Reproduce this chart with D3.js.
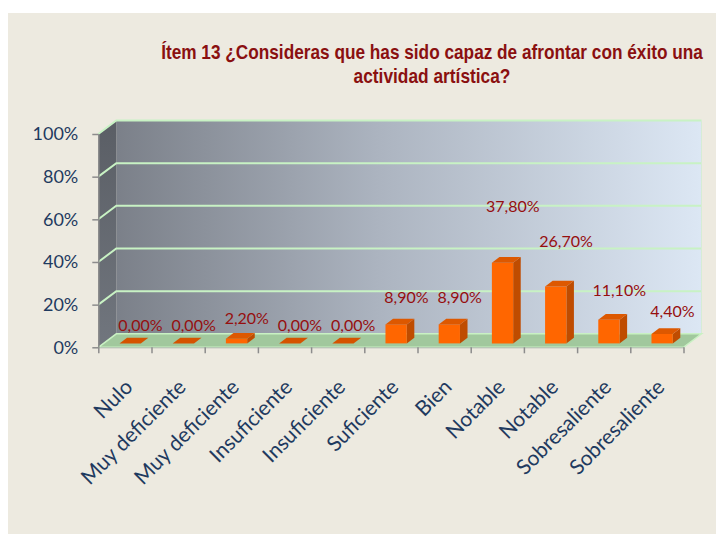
<!DOCTYPE html>
<html>
<head>
<meta charset="utf-8">
<script src="https://cdn.jsdelivr.net/npm/d3@7"></script>
<style>
  html, body { margin: 0; padding: 0; background: #ffffff; }
  svg { display: block; }
</style>
</head>
<body>
<svg id="chart" width="716" height="534"></svg>
<script>
// Category labels along the horizontal axis (order as surveyed)
const categories = ["Nulo", "Muy deficiente", "Muy deficiente", "Insuficiente", "Insuficiente",
  "Suficiente", "Bien", "Notable", "Notable", "Sobresaliente", "Sobresaliente"];
// Share of answers per category, in percent
const values = [0, 0, 2.2, 0, 0, 8.9, 8.9, 37.8, 26.7, 11.1, 4.4];
// Vertical axis ticks, in percent
const yTicks = [0, 20, 40, 60, 80, 100];
const titleLines = ["Ítem 13 ¿Consideras que has sido capaz de afrontar con éxito una",
  "actividad artística?"];

const svg = d3.select("#chart");
const defs = svg.append("defs");

// Panel background
svg.append("rect").attr("x", 8).attr("y", 13).attr("width", 708).attr("height", 521)
  .attr("fill", "#edeae0");

// Plot frame: front plane and depth offset of the oblique 3D box
const plotLeft = 98.3, plotRight = 683.5, plotBottom = 347.3, plotTop = 134;
const depth = { dx: 18, dy: -13.5 };
const f1 = 0.29, f2 = 0.71; // bar front / back depth fractions

const x = d3.scaleBand().domain(d3.range(categories.length)).range([plotLeft, plotRight]).padding(0);
const xb = d3.scaleLinear().domain([0, categories.length]).range([plotLeft, plotRight]);
const y = d3.scaleLinear().domain([0, 100]).range([plotBottom, plotTop]);
const labelY = d3.scaleLinear().domain([0, 100]).range([330.5, 330.5 - 313]);

// Gradients
const gWall = defs.append("linearGradient").attr("id", "wall").attr("x1", 0).attr("x2", 1).attr("y1", 0).attr("y2", 0);
gWall.append("stop").attr("offset", 0).attr("stop-color", "#7b8089");
gWall.append("stop").attr("offset", 0.45).attr("stop-color", "#acb4c0");
gWall.append("stop").attr("offset", 1).attr("stop-color", "#dce7f4");
const gSide = defs.append("linearGradient").attr("id", "side").attr("x1", 0).attr("x2", 0).attr("y1", 0).attr("y2", 1);
gSide.append("stop").attr("offset", 0).attr("stop-color", "#5a5e65");
gSide.append("stop").attr("offset", 1).attr("stop-color", "#71767e");

const bx0 = plotLeft + depth.dx, by0 = plotBottom + depth.dy;
const pt = p => p.join(",");

// Back wall
svg.append("rect").attr("x", bx0).attr("y", y(100) + depth.dy)
  .attr("width", plotRight - plotLeft).attr("height", y(0) - y(100))
  .attr("fill", "url(#wall)");
// Side wall
svg.append("polygon")
  .attr("points", [[plotLeft, y(100)], [bx0, y(100) + depth.dy], [bx0, by0], [plotLeft, plotBottom]].map(pt).join(" "))
  .attr("fill", "url(#side)");

// Gridlines on back and side walls
const grid = svg.append("g").attr("stroke", "#c8f2c4").attr("stroke-width", 2).attr("fill", "none");
yTicks.filter(t => t > 0).forEach(t => {
  grid.append("polyline")
    .attr("points", [[plotLeft, y(t)], [bx0, y(t) + depth.dy], [plotRight + depth.dx, y(t) + depth.dy]].map(pt).join(" "));
});
svg.append("line").attr("x1", plotRight + depth.dx).attr("x2", plotRight + depth.dx)
  .attr("y1", y(100) + depth.dy).attr("y2", by0).attr("stroke", "#d6ecd6").attr("stroke-width", 1);

// Floor
svg.append("polygon")
  .attr("points", [[plotLeft, plotBottom], [bx0, by0], [plotRight + depth.dx, by0], [plotRight, plotBottom]].map(pt).join(" "))
  .attr("fill", "#a1c89d").attr("stroke", "#c9f1c3").attr("stroke-width", 1.5);

// Bars
const bw = x.bandwidth() * 0.4;
const bars = svg.append("g");
values.forEach((v, i) => {
  const xl = x(i) + (x.bandwidth() - bw) / 2, xr = xl + bw;
  const yt = y(v), y0 = y(0);
  const P = (px, py, f) => [px + depth.dx * f, py + depth.dy * f];
  const g = bars.append("g");
  if (v > 0) {
    g.append("polygon")
      .attr("points", [P(xr, yt, f1), P(xr, yt, f2), P(xr, y0, f2), P(xr, y0, f1)].map(pt).join(" "))
      .attr("fill", "#bf4c00");
    g.append("polygon")
      .attr("points", [P(xl, yt, f1), P(xr, yt, f1), P(xr, y0, f1), P(xl, y0, f1)].map(pt).join(" "))
      .attr("fill", "#ff6600");
  }
  g.append("polygon")
    .attr("points", [P(xl, yt, f1), P(xr, yt, f1), P(xr, yt, f2), P(xl, yt, f2)].map(pt).join(" "))
    .attr("fill", v > 0 ? "#dd5800" : "#d55300");
});

// Axes
const yAxis = svg.append("g").attr("transform", `translate(${plotLeft},0)`)
  .call(d3.axisLeft(y).tickValues(yTicks).tickFormat(d => d + "%").tickSize(6).tickSizeOuter(0).tickPadding(14));
yAxis.select(".domain").attr("stroke", "#8c8c8c").attr("stroke-width", 1.5);
yAxis.selectAll(".tick line").attr("stroke", "#8c8c8c").attr("stroke-width", 1.5);
yAxis.selectAll(".tick text").attr("fill", "#1f3a5f")
  .style("font-family", "Lato, 'Open Sans', sans-serif").style("font-size", "18px");

const xAxis = svg.append("g").attr("transform", `translate(0,${plotBottom})`)
  .call(d3.axisBottom(xb).tickValues(d3.range(categories.length + 1)).tickFormat("").tickSize(6).tickSizeOuter(0));
xAxis.select(".domain").attr("stroke", "#b0b8b0").attr("stroke-width", 1);
xAxis.selectAll(".tick line").attr("stroke", "#8c8c8c").attr("stroke-width", 1.5);

// Category labels, rotated
svg.append("g").selectAll("text").data(categories).join("text")
  .attr("transform", (d, i) => `translate(${x(i) + x.bandwidth() / 2 + 9},${plotBottom + 41}) rotate(-45)`)
  .attr("text-anchor", "end")
  .attr("fill", "#1f3a5f")
  .style("font-family", "Lato, 'Open Sans', sans-serif").style("font-size", "21px")
  .text(d => d);

// Data labels
const fmt = v => v.toFixed(2).replace(".", ",") + "%";
svg.append("g").selectAll("text").data(values).join("text")
  .attr("x", (v, i) => x(i) + x.bandwidth() / 2 + 15.5)
  .attr("y", v => labelY(v))
  .attr("text-anchor", "middle")
  .attr("fill", "#960f0f")
  .style("font-family", "Lato, 'Open Sans', sans-serif").style("font-size", "16px")
  .text(fmt);

// Title: bold condensed face, narrowed horizontally to its set width
const title = svg.append("g").attr("fill", "#8a1010")
  .style("font-family", "'Liberation Sans Narrow', 'Liberation Sans', Arial, sans-serif")
  .style("font-weight", "bold").style("font-size", "19.5px");
const titleWidths = [542, 157];
const titleX = 432;
titleLines.forEach((t, k) => {
  const txt = title.append("text").attr("x", 0).attr("y", 0)
    .attr("text-anchor", "middle").text(t);
  const natural = txt.node().getComputedTextLength();
  const sx = natural > 0 ? titleWidths[k] / natural : 1;
  txt.attr("transform", `translate(${titleX},${58.7 + k * 24.6}) scale(${sx},1)`);
});
</script>
</body>
</html>
